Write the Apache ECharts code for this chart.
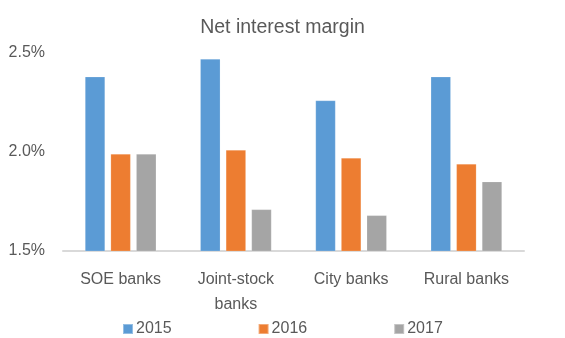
<!DOCTYPE html>
<html>
<head>
<meta charset="utf-8">
<script src="https://cdn.jsdelivr.net/npm/echarts@6/dist/echarts.min.js"></script>
<style>
  html, body { margin: 0; padding: 0; background: #fff; }
  #chart { width: 565px; height: 338px; }
</style>
</head>
<body>
<div id="chart"></div>
<script>
// Net interest margin by bank type, percent
const categories = ['SOE banks', 'Joint-stock\nbanks', 'City banks', 'Rural banks'];
const years = ['2015', '2016', '2017'];
const nim2015 = [2.38, 2.47, 2.26, 2.38];
const nim2016 = [1.99, 2.01, 1.97, 1.94];
const nim2017 = [1.99, 1.71, 1.68, 1.85];
const yTicks = [1.5, 2.0, 2.5];

const colors = ['#5B9BD5', '#ED7D31', '#A5A5A5'];
const font = '"Liberation Sans", Arial, sans-serif';

const chart = echarts.init(document.getElementById('chart'), null, { renderer: 'canvas' });

const seriesData = [nim2015, nim2016, nim2017];

chart.setOption({
  animation: false,
  color: colors,
  title: {
    text: 'Net interest margin',
    left: 'center',
    top: 13,
    textStyle: { fontFamily: font, fontSize: 19.5, fontWeight: 'normal', color: '#595959' }
  },
  legend: {
    data: years,
    top: 321,
    left: 122,
    padding: 0,
    itemWidth: 10,
    itemHeight: 10,
    itemGap: 86,
    icon: 'rect',
    textStyle: { fontFamily: font, fontSize: 16, color: '#595959', padding: [0, 0, 0, -2] }
  },
  grid: { left: 63, right: 41, top: 53, bottom: 87 },
  xAxis: {
    type: 'category',
    data: categories,
    axisLine: { lineStyle: { color: '#D9D9D9', width: 2 } },
    axisTick: { show: false },
    axisLabel: { fontFamily: font, fontSize: 16, color: '#595959', margin: 16, lineHeight: 25 }
  },
  yAxis: {
    type: 'value',
    min: yTicks[0],
    max: yTicks[yTicks.length - 1],
    interval: 0.5,
    splitLine: { show: false },
    axisLine: { show: false },
    axisTick: { show: false },
    axisLabel: {
      fontFamily: font, fontSize: 16, color: '#595959', margin: 18,
      formatter: v => v.toFixed(1) + '%'
    }
  },
  series: years.map((y, i) => ({
    name: y,
    type: 'bar',
    data: seriesData[i],
    barWidth: 20,
    barGap: '28%',
    itemStyle: { borderColor: 'rgba(255,255,255,0.35)', borderWidth: 0.5 }
  }))
});
</script>
</body>
</html>
